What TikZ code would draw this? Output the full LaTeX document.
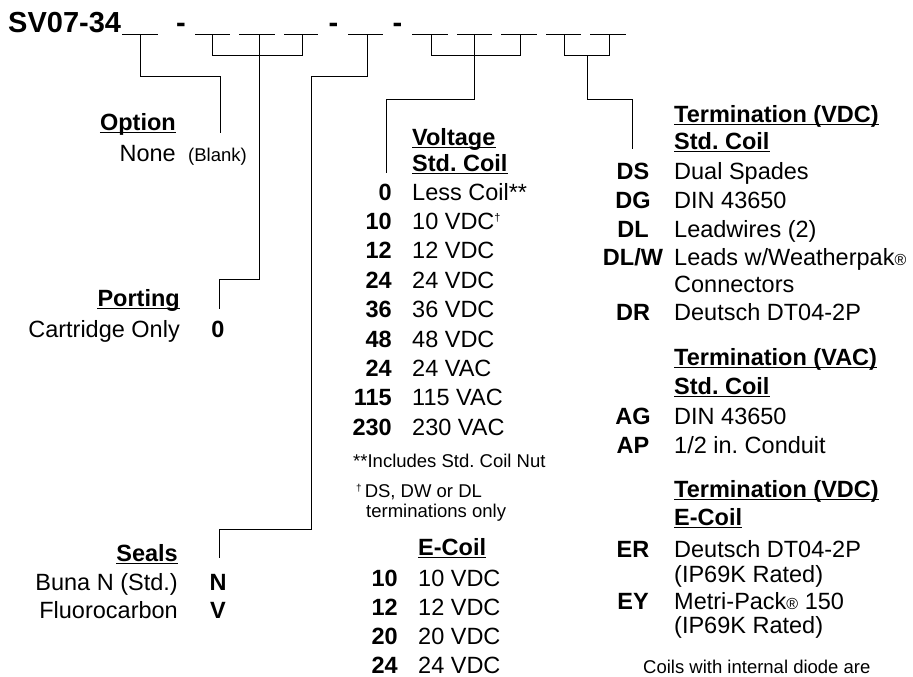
\documentclass[tikz,border=0pt]{standalone}
\usepackage{fontspec}
\setmainfont{Liberation Sans}
\frenchspacing
\newcommand\mydag{\raisebox{8pt}{\fontsize{11}{11}\selectfont †}}
\newcommand\myreg{{\fontsize{16}{16}\selectfont ®}}
\begin{document}
\begin{tikzpicture}[x=1pt,y=-1pt,
  ln/.style={line width=1pt},
  ulstyle/.style={line width=1.5pt},
  txt/.style={inner sep=0pt, font=\fontsize{23.5}{28}\selectfont},
  bld/.style={inner sep=0pt, font=\fontsize{23.5}{28}\selectfont\bfseries},
  sml/.style={inner sep=0pt, font=\fontsize{18.5}{22}\selectfont},
  ttl/.style={inner sep=0pt, font=\fontsize{29}{34}\selectfont\bfseries},
  ul/.style={append after command={([yshift=-2.5pt]\tikzlastnode.base west) edge[ulstyle] ([yshift=-2.5pt]\tikzlastnode.base east)}},
]
\useasboundingbox (0,0) rectangle (913,677);

% title and blanks
\node[ttl,anchor=base west] (title) at (8,33) {SV07-34};
\node[ttl,anchor=base] (dash1) at (181,33) {-};
\node[ttl,anchor=base] (dash2) at (333.5,33) {-};
\node[ttl,anchor=base] (dash3) at (397.5,33) {-};
\foreach \a/\b in {122/158,195/230,239/275,284/318,348/383,412/448,457/492,501/537,546/581,590/626}
  \draw[ln] (\a,35) -- (\b,35);

% connector end points
\coordinate (eOpt) at (220,133);
\coordinate (ePort) at (219,309);
\coordinate (eSeal) at (219,558);
\coordinate (eVolt) at (386,173);
\coordinate (eTerm) at (632,149);

% connectors
\draw[ln] (140,35) -- (140,77) -| (eOpt);
\draw[ln] (212,35) |- (302,56) -- (302,35);
\draw[ln] (259,35) -- (259,279) -| (ePort);
\draw[ln] (367,35) -- (367,77) -| (311,529) -| (eSeal);
\draw[ln] (431,35) |- (520,56) -- (520,35);
\draw[ln] (474,35) -- (474,99) -| (eVolt);
\draw[ln] (564,35) |- (609,56) -- (609,35);
\draw[ln] (587,56) -- (587,99) -| (eTerm);

% Option
\node[bld,ul,anchor=base east] (hOpt) at (176,130) {Option};
\node[txt,anchor=base east] (optNone) at (176,161) {None};
\node[sml,anchor=base west] (optBlank) at (188,161) {(Blank)};

% Porting
\node[bld,ul,anchor=base east] (hPort) at (180,306) {Porting};
\node[txt,anchor=base east] (portC) at (180,337) {Cartridge Only};
\node[bld,anchor=base] (port0) at (218,337) {0};

% Seals
\node[bld,ul,anchor=base east] (hSeal) at (178,561) {Seals};
\node[txt,anchor=base east] (sealN) at (178,590) {Buna N (Std.)};
\node[bld,anchor=base] (sealNc) at (218,590) {N};
\node[txt,anchor=base east] (sealV) at (178,618) {Fluorocarbon};
\node[bld,anchor=base] (sealVc) at (218,618) {V};

% Voltage
\node[bld,ul,anchor=base west] (hVolt1) at (412,145) {Voltage};
\node[bld,ul,anchor=base west] (hVolt2) at (412,171) {Std. Coil};
\foreach \c/\d [count=\i] in {0/Less Coil**,10/10 VDC\mydag,12/12 VDC,24/24 VDC,36/36 VDC,48/48 VDC,24/24 VAC,115/115 VAC,230/230 VAC}{
  \node[bld,anchor=base east] (vc\i) at (392,{200+29.4*(\i-1)}) {\c};
  \node[txt,anchor=base west] (vd\i) at (412,{200+29.4*(\i-1)}) {\d};
}
\node[sml,anchor=base west] (fn1) at (353,467) {**Includes Std. Coil Nut};
\node[sml,anchor=base west] (fn2) at (356,497) {\raisebox{6pt}{\fontsize{10}{10}\selectfont †}\hspace{3pt}DS, DW or DL};
\node[sml,anchor=base west] (fn3) at (366,517) {terminations only};

% E-Coil
\node[bld,ul,anchor=base west] (hEcoil) at (418,555) {E-Coil};
\foreach \c/\d [count=\i] in {10/10 VDC,12/12 VDC,20/20 VDC,24/24 VDC}{
  \node[bld,anchor=base east] (ec\i) at (398,{586+29*(\i-1)}) {\c};
  \node[txt,anchor=base west] (ed\i) at (418,{586+29*(\i-1)}) {\d};
}

% Termination
\node[bld,ul,anchor=base west] (hT1) at (674,122) {Termination (VDC)};
\node[bld,ul,anchor=base west] (hT1b) at (674,149) {Std. Coil};
\node[bld,anchor=base] (tDS) at (633,179) {DS};
\node[txt,anchor=base west] (tDSd) at (674,179) {Dual Spades};
\node[bld,anchor=base] (tDG) at (633,208) {DG};
\node[txt,anchor=base west] (tDGd) at (674,208) {DIN 43650};
\node[bld,anchor=base] (tDL) at (633,237) {DL};
\node[txt,anchor=base west] (tDLd) at (674,237) {Leadwires (2)};
\node[bld,anchor=base] (tDLW) at (633,265) {DL/W};
\node[txt,anchor=base west] (tDLWd) at (674,265) {Leads w/Weatherpak\myreg};
\node[txt,anchor=base west] (tDLWd2) at (674,292) {Connectors};
\node[bld,anchor=base] (tDR) at (633,320) {DR};
\node[txt,anchor=base west] (tDRd) at (674,320) {Deutsch DT04-2P};

\node[bld,ul,anchor=base west] (hT2) at (674,365) {Termination (VAC)};
\node[bld,ul,anchor=base west] (hT2b) at (674,394) {Std. Coil};
\node[bld,anchor=base] (tAG) at (633,424) {AG};
\node[txt,anchor=base west] (tAGd) at (674,424) {DIN 43650};
\node[bld,anchor=base] (tAP) at (633,453) {AP};
\node[txt,anchor=base west] (tAPd) at (674,453) {1/2 in. Conduit};

\node[bld,ul,anchor=base west] (hT3) at (674,497) {Termination (VDC)};
\node[bld,ul,anchor=base west] (hT3b) at (674,525) {E-Coil};
\node[bld,anchor=base] (tER) at (633,557) {ER};
\node[txt,anchor=base west] (tERd) at (674,557) {Deutsch DT04-2P};
\node[txt,anchor=base west] (tERd2) at (674,582) {(IP69K Rated)};
\node[bld,anchor=base] (tEY) at (633,609) {EY};
\node[txt,anchor=base west] (tEYd) at (674,609) {Metri-Pack\myreg{} 150};
\node[txt,anchor=base west] (tEYd2) at (674,633) {(IP69K Rated)};
\node[sml,anchor=base west] (note) at (643,673) {Coils with internal diode are};
\end{tikzpicture}
\end{document}
